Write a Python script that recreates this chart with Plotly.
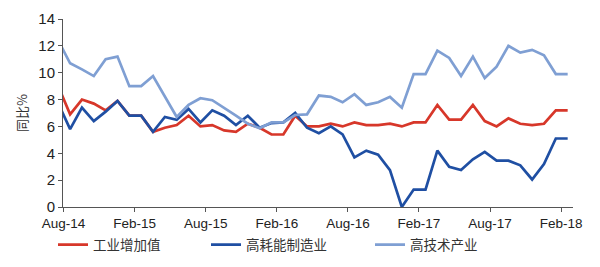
import plotly.graph_objects as go

months = ["Jul-14", "Aug-14", "Sep-14", "Oct-14", "Nov-14", "Dec-14",
          "Jan-15", "Feb-15", "Mar-15", "Apr-15", "May-15", "Jun-15",
          "Jul-15", "Aug-15", "Sep-15", "Oct-15", "Nov-15", "Dec-15",
          "Jan-16", "Feb-16", "Mar-16", "Apr-16", "May-16", "Jun-16",
          "Jul-16", "Aug-16", "Sep-16", "Oct-16", "Nov-16", "Dec-16",
          "Jan-17", "Feb-17", "Mar-17", "Apr-17", "May-17", "Jun-17",
          "Jul-17", "Aug-17", "Sep-17", "Oct-17", "Nov-17", "Dec-17",
          "Jan-18", "Feb-18"]

industrial_va = [9.0, 6.9, 8.0, 7.7, 7.2, 7.9,
                 6.8, 6.8, 5.6, 5.9, 6.1, 6.8,
                 6.0, 6.1, 5.7, 5.6, 6.2, 5.9,
                 5.4, 5.4, 6.8, 6.0, 6.0, 6.2,
                 6.0, 6.3, 6.1, 6.1, 6.2, 6.0,
                 6.3, 6.3, 7.6, 6.5, 6.5, 7.6,
                 6.4, 6.0, 6.6, 6.2, 6.1, 6.2,
                 7.2, 7.2]

energy_intensive = [7.7, 5.8, 7.4, 6.4, 7.1, 7.9,
                    6.8, 6.8, 5.6, 6.7, 6.5, 7.3,
                    6.3, 7.2, 6.8, 6.1, 6.8, 5.9,
                    6.25, 6.3, 7.0, 5.9, 5.5, 6.0,
                    5.4, 3.7, 4.2, 3.9, 2.75, 0.0,
                    1.3, 1.3, 4.2, 3.0, 2.75, 3.55,
                    4.1, 3.45, 3.45, 3.1, 2.05, 3.2,
                    5.1, 5.1]

high_tech = [12.4, 10.7, 10.25, 9.75, 11.0, 11.2,
             9.0, 9.0, 9.75, 8.2, 6.7, 7.6,
             8.1, 7.95, 7.4, 6.8, 6.2, 5.86,
             6.3, 6.3, 6.85, 6.9, 8.3, 8.2,
             7.8, 8.4, 7.6, 7.8, 8.2, 7.4,
             9.9, 9.9, 11.65, 11.1, 9.75, 11.2,
             9.6, 10.45, 12.0, 11.5, 11.7, 11.3,
             9.9, 9.9]

tick_labels = ["Aug-14", "Feb-15", "Aug-15", "Feb-16", "Aug-16", "Feb-17", "Aug-17", "Feb-18"]
series_names = ["工业增加值", "高耗能制造业", "高技术产业"]
colors = ["#d7372a", "#1f4fa3", "#7f9fd3"]

# month index: Jul-14 = -1, Aug-14 = 0, ...
x = [i - 1 for i in range(len(months))]
tick_vals = [months.index(lbl) - 1 - 0.55 for lbl in tick_labels]

font_fam = "Liberation Sans, Arial, Noto Sans CJK SC, sans-serif"
cjk_fam = "Noto Sans CJK SC, Liberation Sans, sans-serif"

fig = go.Figure()
legend_ids = ["legend", "legend2", "legend3"]
for name, vals, col, lg in zip(series_names, [industrial_va, energy_intensive, high_tech], colors, legend_ids):
    fig.add_trace(go.Scatter(x=x, y=vals, mode="lines", name=name,
                             line=dict(color=col, width=2.7), legend=lg))

leg_common = dict(orientation="h", yanchor="middle", xanchor="left",
                  xref="container", yref="container", y=0.083,
                  bgcolor="rgba(0,0,0,0)", borderwidth=0,
                  font=dict(family=cjk_fam, size=13.5, color="#333333"),
                  itemwidth=30)
fig.update_layout(
    width=600, height=267,
    margin=dict(l=63, r=27, t=19, b=60, autoexpand=False),
    paper_bgcolor="white", plot_bgcolor="white",
    showlegend=True,
    legend=dict(x=53 / 600, **leg_common),
    legend2=dict(x=206 / 600, **leg_common),
    legend3=dict(x=370 / 600, **leg_common),
    xaxis=dict(range=[-0.6, 42.45], tickmode="array", tickvals=tick_vals, ticktext=tick_labels,
               showgrid=False, zeroline=False, showline=True, linecolor="#555555", linewidth=1,
               ticks="outside", ticklen=4, tickcolor="#555555",
               tickfont=dict(family=font_fam, size=13.5, color="#222222")),
    yaxis=dict(range=[0, 14], tickmode="array", tickvals=[0, 2, 4, 6, 8, 10, 12, 14],
               showgrid=False, zeroline=False, showline=True, linecolor="#555555", linewidth=1,
               ticks="outside", ticklen=4, tickcolor="#555555",
               tickfont=dict(family=font_fam, size=15, color="#222222"),
               title=dict(text="同比%", font=dict(family=cjk_fam, size=13, color="#333333"),
                          standoff=7)),
)

fig.write_html("out.html")
